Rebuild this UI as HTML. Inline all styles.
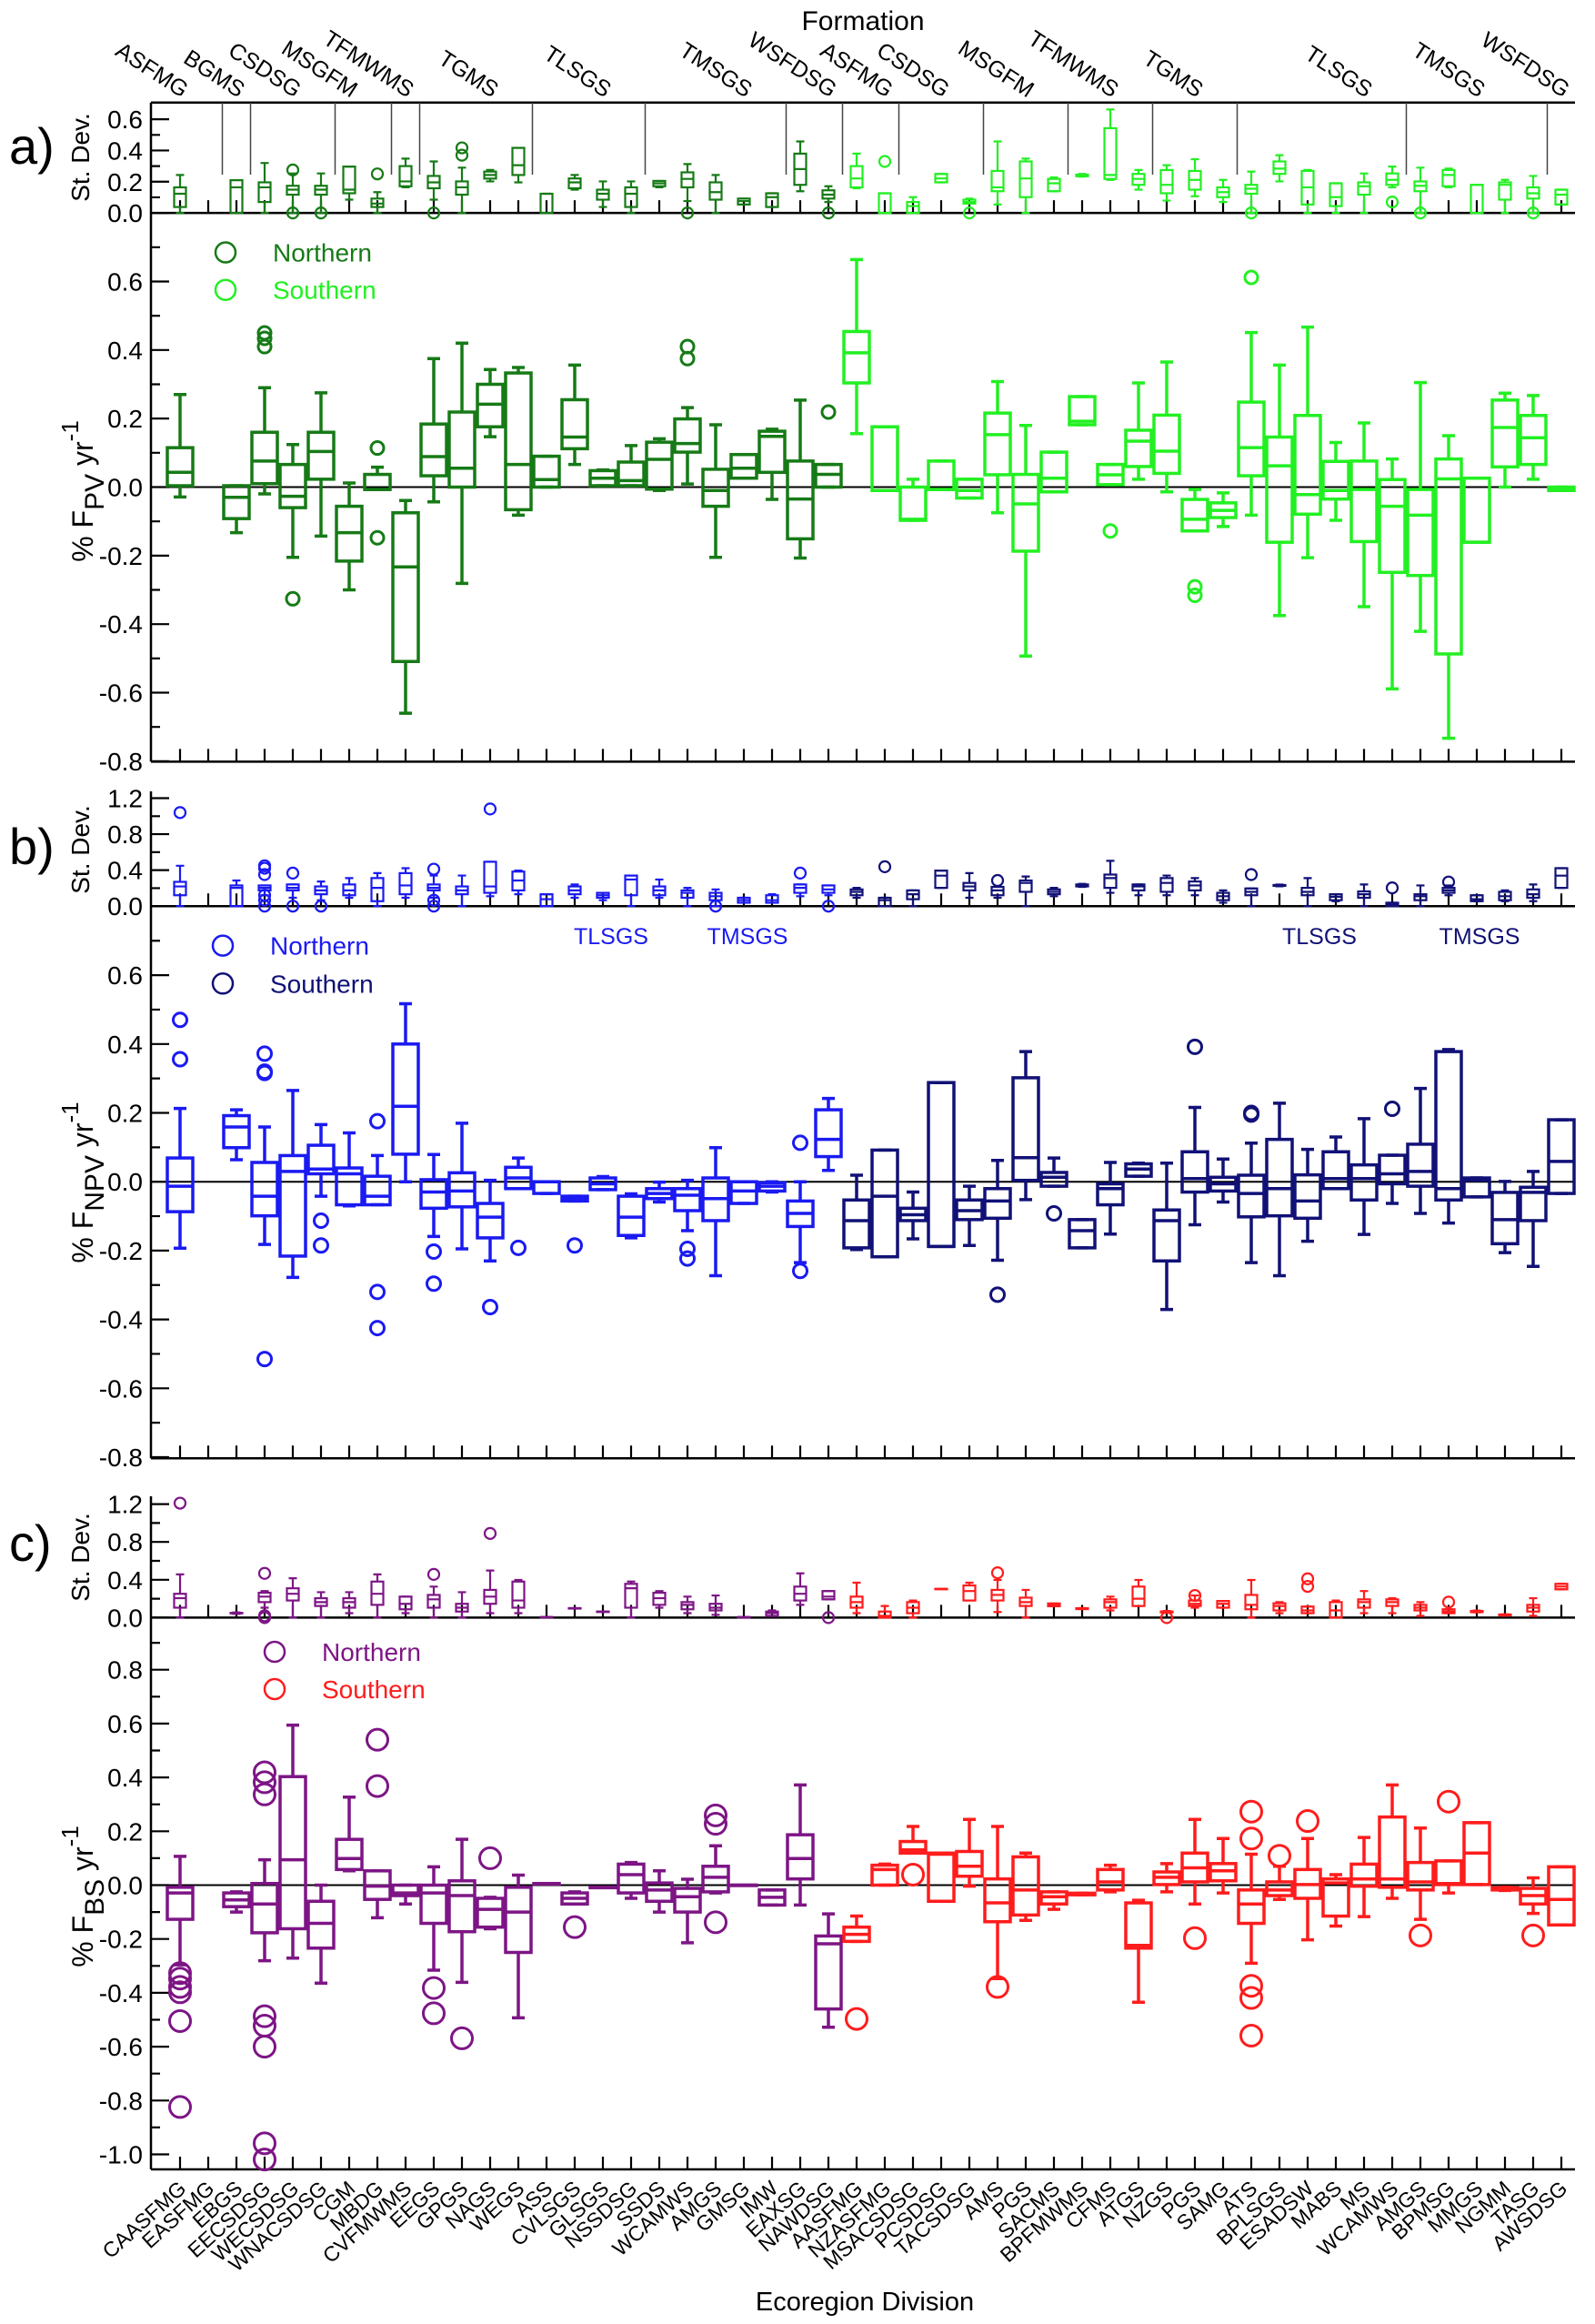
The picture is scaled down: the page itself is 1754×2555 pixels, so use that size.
<!DOCTYPE html>
<html><head><meta charset="utf-8">
<style>html,body{margin:0;padding:0;background:#fff}svg{display:block}text{font-family:"Liberation Sans",Arial,sans-serif}</style>
</head><body>
<svg id="chart" xmlns="http://www.w3.org/2000/svg" width="1754" height="2555" viewBox="0 0 1754 2555">
<rect x="0" y="0" width="1754" height="2555" fill="#fff"/>
<text x="949" y="33" font-size="30" text-anchor="middle">Formation</text>
<text x="951" y="2540" font-size="29" text-anchor="middle">Ecoregion Division</text>
<text x="10" y="180" font-size="56">a)</text>
<text x="10" y="950" font-size="56">b)</text>
<text x="10" y="1716" font-size="56">c)</text>
<text transform="translate(98,173) rotate(-90)" font-size="28" text-anchor="middle">St. Dev.</text>
<text transform="translate(98,934) rotate(-90)" font-size="28" text-anchor="middle">St. Dev.</text>
<text transform="translate(98,1712) rotate(-90)" font-size="28" text-anchor="middle">St. Dev.</text>
<text transform="translate(102,540) rotate(-90)" font-size="32" text-anchor="middle">% F<tspan dy="12" font-size="30">PV</tspan><tspan dy="-12"> yr</tspan><tspan dy="-16" font-size="26">-1</tspan></text>
<text transform="translate(102,1300) rotate(-90)" font-size="32" text-anchor="middle">% F<tspan dy="12" font-size="30">NPV</tspan><tspan dy="-12"> yr</tspan><tspan dy="-16" font-size="26">-1</tspan></text>
<text transform="translate(102,2085) rotate(-90)" font-size="32" text-anchor="middle">% F<tspan dy="12" font-size="30">BS</tspan><tspan dy="-12"> yr</tspan><tspan dy="-16" font-size="26">-1</tspan></text>
<g id="plot"></g>
</svg>
<script>
const categories=["CAASFMG","EASFMG","EBGS","EECSDSG","WECSDSG","WNACSDSG","CGM","MBDG","CVFMWMS","EEGS","GPGS","NAGS","WEGS","ASS","CVLSGS","GLSGS","NSSDSG","SSDS","WCAMWS","AMGS","GMSG","IMW","EAXSG","NAWDSG","AASFMG","NZASFMG","MSACSDSG","PCSDSG","TACSDSG","AMS","PGS","SACMS","BPFMWMS","CFMS","ATGS","NZGS","PGS","SAMG","ATS","BPLSGS","ESADSW","MABS","MS","WCAMWS","AMGS","BPMSG","MMGS","NGMM","TASG","AWSDSG"];
const northernCount=24;
const formations=["ASFMG","BGMS","CSDSG","MSGFM","TFMWMS","TGMS","TLSGS","TMSGS","WSFDSG","ASFMG","CSDSG","MSGFM","TFMWMS","TGMS","TLSGS","TMSGS","WSFDSG"];
const formationLastIndex=[1,2,5,7,8,12,16,21,23,25,28,31,34,37,43,48,49];
const formationLabelIdx=[0,2,4,6,8,11,15,20,23,25,27,30,33,36,42,46,49];
// [low, q1, median, q3, high]
const fpvMain=[[-.029,.004,.043,.115,.27],null,[-.133,-.092,-.03,.004,.004],[-.02,.01,.076,.16,.29],[-.205,-.06,-.027,.066,.124],[-.143,.023,.104,.16,.275],[-.30,-.216,-.133,-.056,.012],[-.007,-.007,-.007,.037,.058],[-.66,-.509,-.233,-.075,-.039],[-.043,.033,.089,.184,.375],[-.281,0,.055,.219,.42],[.147,.176,.242,.3,.343],[-.082,-.066,.066,.333,.349],[0,0,.022,.09,.09],[.066,.112,.146,.255,.356],[.004,.004,.026,.048,.05],[.004,.004,.019,.073,.121],[-.01,-.006,.081,.131,.141],[.009,.102,.127,.199,.232],[-.205,-.056,-.01,.052,.182],[.026,.026,.055,.095,.095],[-.036,.043,.148,.163,.169],[-.207,-.151,-.035,.076,.254],[0,0,.037,.066,.066],[.156,.304,.392,.454,.664],[-.01,-.01,-.01,.176,.176],[-.097,-.097,-.094,0,.023],[-.007,-.007,-.007,.076,.076],[-.032,-.032,-.01,.023,.023],[-.075,.036,.153,.216,.308],[-.493,-.187,-.049,.037,.18],[-.014,-.014,.026,.102,.102],[.182,.182,.192,.264,.264],[.007,.007,.036,.066,.066],[.023,.06,.134,.166,.304],[-.014,.04,.105,.21,.365],[-.128,-.128,-.094,-.036,-.007],[-.115,-.089,-.068,-.046,-.017],[-.082,.033,.115,.248,.451],[-.375,-.161,.062,.146,.356],[-.206,-.079,-.022,.209,.467],[-.097,-.035,-.01,.075,.13],[-.349,-.159,-.007,.076,.187],[-.589,-.249,-.056,.022,.082],[-.421,-.258,-.082,-.007,.305],[-.733,-.487,.024,.082,.15],[-.161,-.161,-.161,.026,.026],[0,.059,.174,.254,.274],[.023,.066,.144,.209,.267],[-.01,-.01,-.005,0,0]];
const fpvMainOut={3:[.45,.434,.41],4:[-.326],7:[.114,-.148],18:[.41,.375],23:[.219],33:[-.128],36:[-.291,-.316],38:[.612]};
const fpvSd=[[0,.038,.123,.164,.243],null,[0,0,.164,.21,.21],[0,.07,.164,.196,.32],[0,.117,.149,.174,.253],[0,.117,.149,.174,.253],[.085,.126,.149,.297,.297],[0,.038,.06,.092,.133],[.164,.171,.202,.3,.348],[.085,.158,.196,.237,.33],[0,.117,.164,.202,.29],[.202,.22,.243,.265,.275],[.196,.243,.306,.417,.417],[0,0,0,.123,.123],[.149,.158,.196,.221,.243],[.038,.085,.123,.149,.202],[0,.038,.123,.164,.202],[.164,.171,.19,.205,.205],[.076,.164,.218,.26,.313],[0,.085,.133,.196,.243],[.054,.054,.076,.092,.092],[.038,.038,.101,.126,.126],[.139,.18,.281,.38,.458],[.07,.092,.117,.145,.171],[.158,.164,.221,.3,.38],[0,0,0,.126,.126],[0,0,.044,.07,.101],[.196,.196,.221,.25,.25],[.06,.06,.07,.085,.092],[.054,.139,.164,.269,.458],[0,.101,.221,.33,.348],[.139,.139,.19,.218,.227],[.233,.235,.24,.245,.25],[.212,.218,.243,.543,.663],[.149,.18,.218,.25,.275],[.079,.126,.18,.275,.306],[.107,.149,.212,.269,.344],[.07,.101,.133,.164,.212],[0,.123,.155,.18,.265],[.202,.25,.284,.33,.37],[0,.054,.164,.269,.275],[0,.044,.101,.19,.19],[0,.117,.171,.196,.253],[.164,.18,.212,.253,.297],[0,.139,.174,.202,.29],[.164,.171,.243,.275,.284],[0,0,.18,.18,.18],[0,.085,.18,.196,.212],[0,.092,.126,.164,.237],[.054,.054,.117,.149,.149]];
const fpvSdOut={4:[.275,0],5:[0],7:[.25],9:[0],10:[.417,.37],18:[0],23:[0],25:[.33],28:[0],38:[0],43:[.07],44:[0],48:[0]};
const fnpvMain=[[-.193,-.087,-.013,.069,.213],null,[.064,.099,.159,.192,.209],[-.182,-.099,-.042,.056,.159],[-.278,-.216,.03,.076,.265],[-.042,.023,.037,.106,.166],[-.07,-.067,.023,.04,.142],[-.067,-.067,-.042,.016,.076],[0,.08,.219,.4,.517],[-.159,-.077,-.03,.006,.079],[-.195,-.073,-.027,.026,.17],[-.23,-.163,-.103,-.063,.004],[-.02,-.02,.011,.042,.069],[-.034,-.034,0,0,0],[-.056,-.056,-.049,-.042,-.042],[-.023,-.023,-.006,.011,.015],[-.163,-.156,-.103,-.042,-.035],[-.059,-.049,-.034,-.02,-.001],[-.142,-.084,-.039,-.02,.004],[-.273,-.113,-.049,.011,.099],[-.063,-.063,-.027,0,0],[-.03,-.027,-.013,-.003,0],[-.235,-.13,-.092,-.056,0],[.033,.073,.123,.209,.242],[-.197,-.192,-.113,-.053,.019],[-.218,-.218,-.042,.092,.092],[-.166,-.113,-.096,-.077,-.03],[-.188,-.188,-.188,.288,.288],[-.185,-.11,-.084,-.053,-.013],[-.228,-.106,-.056,-.02,.062],[-.052,.004,.07,.302,.378],[-.013,-.013,.013,.027,.069],[-.192,-.192,-.142,-.11,-.11],[-.152,-.067,-.02,-.006,.056],[.016,.016,.037,.052,.054],[-.371,-.23,-.113,-.082,.054],[-.125,-.03,.009,.087,.216],[-.059,-.027,-.006,.013,.066],[-.235,-.102,-.034,.019,.112],[-.273,-.099,-.02,.123,.228],[-.173,-.106,-.056,.02,.094],[-.02,-.02,.009,.087,.13],[-.153,-.053,.009,.049,.183],[-.063,-.006,.023,.077,.077],[-.092,-.013,.03,.109,.271],[-.12,-.053,-.02,.378,.384],[-.044,-.044,.004,.011,.011],[-.206,-.18,-.11,-.031,.001],[-.246,-.113,-.031,-.016,.03],[-.034,-.034,.059,.18,.18]];
const fnpvMainOut={0:[.47,.356],3:[.372,.32,.316,-.515],5:[-.113,-.185],7:[.176,-.32,-.425],9:[-.203,-.296],11:[-.364],12:[-.192],14:[-.185],18:[-.195,-.223],22:[.113,-.259],29:[-.328],31:[-.092],36:[.392],38:[.2,.195],43:[.212]};
const fnpvSd=[[0,.121,.219,.27,.449],null,[0,0,.203,.23,.285],[.121,.175,.203,.23,.23],[.093,.175,.203,.241,.241],[.066,.132,.175,.219,.274],[.093,.121,.175,.241,.312],[0,.055,.203,.312,.367],[.093,.132,.23,.367,.422],[.093,.175,.203,.241,.34],[0,.132,.175,.219,.34],[.11,.148,.219,.493,.493],[.132,.175,.285,.384,.395],[0,0,.077,.132,.132],[.093,.132,.175,.219,.241],[.066,.093,.121,.148,.148],[0,.121,.296,.34,.34],[.093,.121,.175,.219,.296],[0,.093,.148,.175,.203],[0,.066,.11,.148,.186],[.038,.038,.066,.093,.093],[.038,.038,.066,.121,.132],[.11,.148,.203,.241,.241],[.121,.148,.186,.23,.23],[.093,.121,.159,.186,.203],[0,0,.066,.093,.093],[0,.077,.132,.175,.175],[.203,.203,.339,.395,.395],[.093,.175,.219,.258,.367],[.093,.121,.175,.214,.219],[0,.159,.258,.285,.329],[.11,.132,.159,.186,.203],[.214,.219,.23,.241,.247],[.148,.203,.312,.351,.504],[.121,.175,.219,.241,.241],[.121,.159,.258,.312,.34],[.121,.175,.23,.274,.312],[.038,.066,.11,.148,.175],[0,.121,.159,.197,.197],[.22,.225,.23,.235,.24],[0,.121,.159,.203,.312],[.055,.066,.104,.132,.132],[0,.093,.132,.164,.241],[0,0,.022,.038,.038],[0,.066,.11,.132,.23],[.121,.148,.175,.203,.23],[.055,.055,.077,.121,.121],[.055,.066,.11,.159,.175],[.055,.093,.132,.186,.241],[.203,.203,.339,.422,.422]];
const fnpvSdOut={0:[1.04],3:[.449,.422,.351,.121,.066,0],4:[.367,0],5:[0],9:[.411,.066,0],11:[1.08],19:[0],22:[.367],23:[0],25:[.438],29:[.285],38:[.351],43:[.203],45:[.268]};
const fbsMain=[[-.296,-.127,-.029,-.008,.107],null,[-.1,-.08,-.055,-.029,-.025],[-.281,-.177,-.07,.006,.094],[-.271,-.162,.094,.403,.594],[-.364,-.234,-.142,-.06,0],[.053,.058,.099,.17,.327],[-.121,-.053,-.004,.053,.053],[-.07,-.039,-.029,0,0],[-.316,-.142,-.029,0,.068],[-.361,-.173,-.039,.016,.17],[-.162,-.156,-.09,-.049,-.045],[-.493,-.25,-.1,-.008,.037],[.006,.006,.006,.006,.006],[-.07,-.07,-.049,-.029,-.025],[-.008,-.008,-.008,-.008,-.008],[-.049,-.029,.039,.078,.084],[-.1,-.06,-.018,.008,.053],[-.214,-.1,-.043,-.012,.022],[-.029,-.025,.029,.07,.146],[0,0,0,0,0],[-.074,-.074,-.045,-.018,-.018],[-.074,.023,.099,.187,.372],[-.528,-.46,-.218,-.189,-.107],[-.209,-.209,-.183,-.156,-.115],[0,0,.058,.074,.078],[.119,.119,.131,.162,.218],[-.06,-.06,.115,.119,.119],[-.004,.033,.07,.125,.244],[-.347,-.136,-.066,.023,.218],[-.131,-.111,-.018,.105,.119],[-.09,-.07,-.043,-.025,-.025],[-.036,-.036,-.033,-.03,-.03],[-.025,-.018,.012,.058,.074],[-.435,-.234,-.224,-.066,-.056],[-.025,.002,.029,.049,.08],[-.07,.012,.064,.119,.244],[-.029,.016,.053,.08,.173],[-.29,-.142,-.07,-.018,.115],[-.053,-.039,-.018,.012,.07],[-.203,-.049,.002,.058,.173],[-.152,-.115,.008,.023,.039],[-.117,-.004,.023,.078,.177],[-.049,-.008,.023,.253,.372],[-.127,-.018,.012,.084,.212],[-.029,.002,.006,.09,.09],[.002,.002,.119,.232,.232],[-.02,-.018,-.014,-.01,-.008],[-.105,-.07,-.039,-.012,.027],[-.148,-.148,-.053,.068,.068]];
const fbsMainOut={0:[-.327,-.347,-.378,-.398,-.505,-.824],3:[.419,.382,.337,-.487,-.522,-.6,-.959,-1.019],7:[.54,.368],9:[-.382,-.476],10:[-.569],11:[.1],14:[-.156],19:[.259,.228,-.138],24:[-.497],26:[.039],29:[-.378],36:[-.197],38:[.273,.173,-.374,-.419,-.559],39:[.109],40:[.238],44:[-.187],45:[.31],48:[-.187]};
const fbsSd=[[0,.105,.205,.252,.457],null,[.04,.045,.047,.05,.055],[.105,.164,.222,.263,.281],[0,.181,.252,.31,.416],[0,.123,.164,.205,.269],[.047,.105,.164,.205,.269],[0,.135,.252,.381,.457],[.047,.088,.146,.222,.222],[0,.105,.193,.24,.328],[0,.064,.105,.146,.269],[.047,.146,.222,.293,.498],[.047,.105,.181,.381,.398],[.006,.006,.006,.006,.006],[.1,.1,.1,.1,.1],[.064,.064,.064,.064,.064],[0,.105,.31,.357,.381],[.105,.135,.205,.263,.281],[.047,.088,.135,.164,.222],[.029,.076,.105,.146,.234],[.006,.006,.006,.006,.006],[.018,.018,.047,.064,.076],[.135,.181,.252,.328,.468],[.193,.193,.222,.281,.281],[.047,.105,.164,.222,.369],[0,0,.018,.064,.123],[0,.047,.105,.164,.181],[.304,.304,.304,.304,.304],[.181,.181,.281,.34,.369],[.059,.181,.24,.293,.398],[0,.123,.164,.211,.293],[.12,.12,.135,.15,.15],[.09,.09,.094,.1,.1],[.076,.105,.164,.193,.222],[.123,.123,.2,.328,.398],[.05,.055,.059,.065,.07],[.105,.123,.146,.181,.234],[.105,.105,.146,.176,.176],[0,.088,.135,.24,.398],[.047,.076,.123,.152,.164],[.047,.047,.076,.117,.117],[0,0,.076,.164,.181],[.047,.105,.164,.193,.281],[.047,.123,.164,.193,.205],[.018,.076,.105,.135,.164],[.047,.047,.064,.088,.088],[.055,.058,.064,.07,.075],[.02,.025,.029,.033,.035],[.018,.064,.105,.135,.205],[.299,.299,.328,.357,.357]];
const fbsSdOut={0:[1.21],3:[.468,0,.02],9:[.457],11:[.89],23:[0],29:[.474],35:[0],36:[.234],40:[.41,.33],45:[.164]};
const mainTicksAB=[-0.8,-0.6,-0.4,-0.2,0.0,0.2,0.4,0.6];
const mainTicksC=[-1.0,-0.8,-0.6,-0.4,-0.2,0.0,0.2,0.4,0.6,0.8];
const sdTicksA=[0.0,0.2,0.4,0.6];
const sdTicksBC=[0.0,0.4,0.8,1.2];

const NS="http://www.w3.org/2000/svg";
const root=document.getElementById('plot');
const X0=198,STEP=31,AX_L=166,AX_R=1732;
function xc(i){return X0+STEP*i;}
function el(tag,attrs,parent){const e=document.createElementNS(NS,tag);for(const k in attrs)e.setAttribute(k,attrs[k]);(parent||root).appendChild(e);return e;}
function lin(z,s){return v=>z-s*v;}
const panels=[
 {key:'a',sd:lin(234.1,171.6),main:lin(535.5,376.7),sdTop:112.7,mainBot:837.4,sdTicks:sdTicksA,sdMinor:0.1,sdMax:0.7,mainTicks:mainTicksAB,mainMin:-0.8,mainMax:0.8,
  mdata:fpvMain,mainOut:fpvMainOut,sdd:fpvSd,sdOut:fpvSdOut,cN:'#167a16',cS:'#22f022',or:7,lr:11,leg:[248,277.5,318.7,300],frame:true},
 {key:'b',sd:lin(996.2,98.9),main:lin(1299.2,378.5),sdTop:870,mainBot:1603.3,sdTicks:sdTicksBC,sdMinor:0.2,sdMax:1.25,mainTicks:mainTicksAB,mainMin:-0.8,mainMax:0.8,
  mdata:fnpvMain,mainOut:fnpvMainOut,sdd:fnpvSd,sdOut:fnpvSdOut,cN:'#1a1af2',cS:'#111177',or:7.5,lr:11,leg:[245,1039.6,1081.3,297],frame:false},
 {key:'c',sd:lin(1778.4,104),main:lin(2072.5,296),sdTop:1645,mainBot:2385,sdTicks:sdTicksBC,sdMinor:0.2,sdMax:1.25,mainTicks:mainTicksC,mainMin:-1.05,mainMax:1.0,
  mdata:fbsMain,mainOut:fbsMainOut,sdd:fbsSd,sdOut:fbsSdOut,cN:'#7d1585',cS:'#ff1c1c',or:11.5,lr:11,leg:[302,1816,1857,354],frame:false}
];
function fmt(v){return (Math.abs(v)<1e-9?0:v).toFixed(1);}
function drawBox(g,x,s,hw,cw,y,color,sw){
  const [lo,q1,md,q3,hi]=s;
  const p=el('path',{d:`M${x},${y(hi)}V${y(q3)}M${x},${y(q1)}V${y(lo)}M${x-cw},${y(hi)}H${x+cw}M${x-cw},${y(lo)}H${x+cw}M${x-hw},${y(md)}H${x+hw}`,stroke:color,'stroke-width':sw,fill:'none'},g);
  
  
  const r=el('rect',{x:x-hw,y:y(q3),width:2*hw,height:Math.max(0.5,y(q1)-y(q3)),fill:'none',stroke:color,'stroke-width':sw},g);
  
  
}
panels.forEach(P=>{
  const g=el('g',{});
  
  
  const ax=el('path',{d:`M${AX_L},${P.sdTop}V${P.mainBot}M${AX_L},${P.mainBot}H${AX_R}M${AX_L},${P.sd(0)}H${AX_R}`,stroke:'#000','stroke-width':2.5,fill:'none'},g);
  
  
  if(P.frame){const f=el('line',{x1:AX_L,x2:AX_R,y1:P.sdTop,y2:P.sdTop,stroke:'#000','stroke-width':2.5},g);
    
    }
  const z=el('line',{x1:AX_L,x2:AX_R,y1:P.main(0),y2:P.main(0),stroke:'#000','stroke-width':2},g);
  
  
  let d='';
  P.sdTicks.forEach(v=>{d+=`M${AX_L},${P.sd(v)}h20`;
    const t=el('text',{x:157,y:P.sd(v)+10,'font-size':28,'text-anchor':'end'},g);t.textContent=fmt(v);
    
    });
  for(let v=P.sdMinor;v<P.sdMax;v+=2*P.sdMinor)d+=`M${AX_L},${P.sd(v)}h10`;
  P.mainTicks.forEach(v=>{d+=`M${AX_L},${P.main(v)}h20`;
    const t=el('text',{x:157,y:P.main(v)+10,'font-size':28,'text-anchor':'end'},g);t.textContent=fmt(v);
    
    });
  for(let k=-19;k<=19;k+=2){const vv=k/10;if(vv>P.mainMin&&vv<P.mainMax-0.05)d+=`M${AX_L},${P.main(vv)}h10`;}
  categories.forEach((c,i)=>{d+=`M${xc(i)},${P.mainBot}v-14M${xc(i)},${P.sd(0)}v-14`;});
  const tk=el('path',{d:d,stroke:'#000','stroke-width':2.2,fill:'none'},g);
  
  
  categories.forEach((c,i)=>{
    const col=i<northernCount?P.cN:P.cS;
    const s=P.sdd[i];
    const gs=el('g',{},g);
    
    
    if(s)drawBox(gs,xc(i),s,6.5,4.5,P.sd,col,2.2);
    (P.sdOut[i]||[]).forEach(v=>{const o=el('circle',{cx:xc(i),cy:P.sd(v),r:6,fill:'none',stroke:col,'stroke-width':2.2},gs);
      
      });
    const m=P.mdata[i];
    const gm=el('g',{},g);
    
    
    if(m)drawBox(gm,xc(i),m,14,7,P.main,col,3.5);
    (P.mainOut[i]||[]).forEach(v=>{const o=el('circle',{cx:xc(i),cy:P.main(v),r:P.or,fill:'none',stroke:col,'stroke-width':3},gm);
      
      });
  });
  const [lx,ly1,ly2,tx]=P.leg;
  [[ly1,P.cN,'Northern'],[ly2,P.cS,'Southern']].forEach(([yy,col,lab])=>{
    const c=el('circle',{cx:lx,cy:yy,r:P.lr,fill:'none',stroke:col,'stroke-width':2.5},g);
    
    
    const t=el('text',{x:tx,y:yy+10,'font-size':28,fill:col},g);t.textContent=lab;
    
    
  });
});
formationLastIndex.forEach((li,k)=>{
  if(k<formationLastIndex.length-1){
    const xs=xc(li)+STEP/2;
    const l=el('line',{x1:xs,x2:xs,y1:112.7,y2:192,stroke:'#444','stroke-width':1.5});
    
    
  }
  const xe=xc(formationLabelIdx[k])+2;
  const t=el('text',{transform:`translate(${xe},108) rotate(33)`,'font-size':25,'text-anchor':'end'});
  t.textContent=formations[k];
  
  
});
[[672,'#1a1af2','TLSGS'],[822,'#1a1af2','TMSGS'],[1451,'#111177','TLSGS'],[1627,'#111177','TMSGS']].forEach(([x,c,l])=>{
  const t=el('text',{x:x,y:1038,'font-size':25,'text-anchor':'middle',fill:c});t.textContent=l;
  
  
});
categories.forEach((c,i)=>{
  const t=el('text',{transform:`translate(${xc(i)+8},2408) rotate(-42)`,'font-size':23,'text-anchor':'end'});
  t.textContent=c;
  
  
});
</script>
</body></html>
